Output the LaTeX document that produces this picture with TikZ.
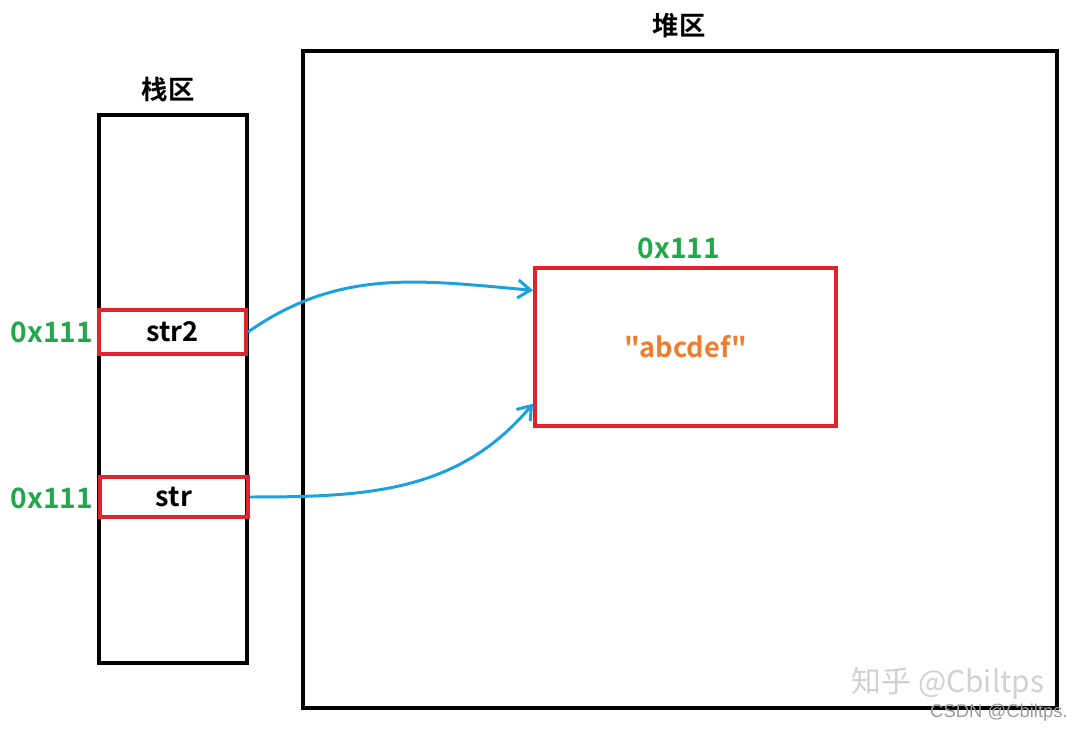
\documentclass[tikz,border=0pt]{standalone}
\usepackage{fontspec}
\setmainfont{Noto Sans CJK SC}[BoldFont={Noto Sans CJK SC Bold},Ligatures=TeXOff]
\newfontfamily\wmfont{Liberation Sans}
\usetikzlibrary{arrows.meta,calc}
\definecolor{memblack}{HTML}{000000}
\definecolor{memred}{HTML}{E3222B}
\definecolor{memblue}{HTML}{1BA1DF}
\definecolor{memgreen}{HTML}{22A84A}
\definecolor{memorange}{HTML}{EE7D2F}

\begin{document}
\begin{tikzpicture}[
  x=0.02cm,y=-0.02cm,
  area/.style={draw=memblack,line width=2.3pt,minimum width=#1},
  cell/.style={draw=memred,line width=2.3pt,font=\fontsize{15.5}{18}\selectfont\bfseries},
  title/.style={font=\fontsize{15}{18}\selectfont\bfseries},
  addr/.style={text=memgreen,font=\fontsize{16}{19}\selectfont\bfseries},
  pointer/.style={draw=memblue,line width=1.7pt,-{Straight Barb[length=2.5mm,width=3.6mm]}}
]
  \useasboundingbox (0,0) rectangle (1082,732);

  % stack and heap
  \node[area=2.96cm,minimum height=10.96cm] (stack) at (173,389) {};
  \node[area=15.08cm,minimum height=13.14cm] (heap) at (680,379.5) {};
  \node[title] (stacklbl) at (168,89) {栈区};
  \node[title] (heaplbl) at (679,26) {堆区};

  % variables on the stack
  \node[cell,minimum width=2.94cm,minimum height=0.88cm] (str2) at (172.5,332) {str2};
  \node[cell,minimum width=2.96cm,minimum height=0.80cm] (str) at (174,497) {str};
  \node[addr,anchor=east] (addr2) at (99,332) {0x111};
  \node[addr,anchor=east] (addr1) at (99,498) {0x111};

  % string object on the heap
  \node[cell,minimum width=6.02cm,minimum height=3.16cm,text=memorange] (obj) at (685.5,347) {"abcdef"};
  \node[addr] (objaddr) at (679,248) {0x111};

  \coordinate (objin1) at ($(obj.north west)!0.15!(obj.south west)$);
  \coordinate (objin2) at ($(obj.north west)!0.85!(obj.south west)$);
  \draw[pointer] (str2.east) to[out=35,in=175] (objin1);
  \draw[pointer] (str.east) to[out=0,in=230] (objin2);

  % watermark
  \node[text=black!18,font=\fontsize{17}{20}\selectfont] (wm) at (948,683) {知乎 @Cbiltps};
  \node[text=black!40,font=\wmfont\fontsize{10.5}{12}\selectfont] (wmcsdn) at (999,713) {CSDN @Cbiltps.};
\end{tikzpicture}
\end{document}
